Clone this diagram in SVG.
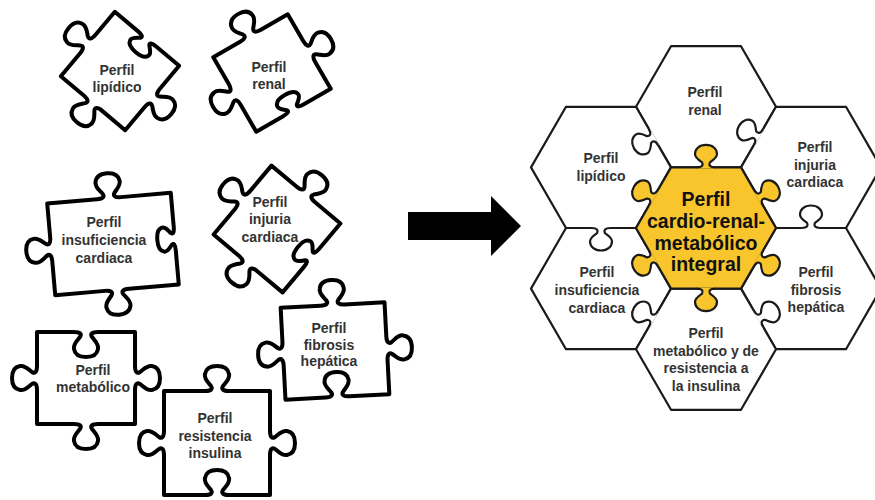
<svg xmlns="http://www.w3.org/2000/svg" width="875" height="500" viewBox="0 0 875 500">
<style>
.pz{fill:#fff;stroke:#000;stroke-width:4;stroke-linejoin:round}
.hx{fill:#fff;stroke:#1a1a1a;stroke-width:2.2;stroke-linejoin:round}
.hc{fill:#F8C52C;stroke:#1a1a1a;stroke-width:2.2;stroke-linejoin:round}
.t{font-family:"Liberation Sans",Arial,sans-serif;font-weight:bold;font-size:14px;fill:#333;text-anchor:middle}
.tc{font-family:"Liberation Sans",Arial,sans-serif;font-weight:bold;font-size:19.5px;fill:#111;text-anchor:middle}
.ky{fill:#F8C52C}
.kw{fill:#fff}
.kl{fill:none;stroke:#1a1a1a;stroke-width:2.2;stroke-linejoin:round}
</style>
<defs>
<path id="kf" d="M25.9,1.2 L25.9,0 C31.1,0 32.4,-2.2 31.1,-5 C27.2,-7.7 24,-9.9 24,-13.2 C24,-18.7 28.5,-22.5 35,-22.5 C41.5,-22.5 46,-18.7 46,-13.2 C46,-9.9 42.8,-7.7 38.9,-5 C37.6,-2.2 38.9,0 44.1,0 L44.1,1.2 Z"/>
<path id="kl" d="M25.9,0 C31.1,0 32.4,-2.2 31.1,-5 C27.2,-7.7 24,-9.9 24,-13.2 C24,-18.7 28.5,-22.5 35,-22.5 C41.5,-22.5 46,-18.7 46,-13.2 C46,-9.9 42.8,-7.7 38.9,-5 C37.6,-2.2 38.9,0 44.1,0"/>
</defs>
<rect width="875" height="500" fill="#fff"/>

<!-- Left puzzle pieces -->
<g id="pieza-lipidico">
<path class="pz" transform="translate(120,71) rotate(40)" d="M-42,-42 h30 c6,0 8,1.4 6,3.5 c-3,2.8 -7,4.9 -6,8.4 c1,4.2 6,5.6 12,5.6 c6,0 11,-1.4 12,-5.6 c1,-3.5 -3,-5.6 -6,-8.4 c-2,-2.1 0,-3.5 6,-3.5 h30 v30 c0,6 2,8 5,6 c4,-3 7,-7 12,-6 c6,1 8,6 8,12 c0,6 -2,11 -8,12 c-5,1 -8,-3 -12,-6 c-3,-2 -5,0 -5,6 v30 h-30 c-6,0 -8,2 -6,5 c3,4 7,7 6,12 c-1,6 -6,8 -12,8 c-6,0 -11,-2 -12,-8 c-1,-5 3,-8 6,-12 c2,-3 0,-5 -6,-5 h-30 v-30 c0,-6 -2,-8 -5,-6 c-4,3 -7,7 -12,6 c-6,-1 -8,-6 -8,-12 c0,-6 2,-11 8,-12 c5,-1 8,3 12,6 c3,2 5,0 5,-6 v-30 Z"/>
<text class="t" x="117" y="75">Perfil</text>
<text class="t" x="117" y="92">lipídico</text>
</g>
<g id="pieza-renal">
<path class="pz" transform="translate(272,73) rotate(-30)" d="M-43,-43 h31 c6,0 8,-2 6,-5 c-3,-4 -7,-7 -6,-12 c1,-6 6,-8 12,-8 c6,0 11,2 12,8 c1,5 -3,8 -6,12 c-2,3 0,5 6,5 h31 v31 c0,6 2,8 5,6 c4,-3 7,-7 12,-6 c6,1 8,6 8,12 c0,6 -2,11 -8,12 c-5,1 -8,-3 -12,-6 c-3,-2 -5,0 -5,6 v31 h-31 c-6,0 -8,-1.4 -6,-3.5 c3,-2.8 7,-4.9 6,-8.4 c-1,-4.2 -6,-5.6 -12,-5.6 c-6,0 -11,1.4 -12,5.6 c-1,3.5 3,5.6 6,8.4 c2,2.1 0,3.5 -6,3.5 h-31 v-31 c0,-6 -2,-8 -5,-6 c-4,3 -7,7 -12,6 c-6,-1 -8,-6 -8,-12 c0,-6 2,-11 8,-12 c5,-1 8,3 12,6 c3,2 5,0 5,-6 v-31 Z"/>
<text class="t" x="269" y="72">Perfil</text>
<text class="t" x="269" y="89">renal</text>
</g>
<g id="pieza-insuficiencia">
<path class="pz" transform="translate(113,244) rotate(-5)" d="M-62,-46 h50 c6,0 8,-2 6,-5 c-3,-4 -7,-7 -6,-12 c1,-6 6,-8 12,-8 c6,0 11,2 12,8 c1,5 -3,8 -6,12 c-2,3 0,5 6,5 h50 v34 c0,6 -1.4,8 -3.5,6 c-2.8,-3 -4.9,-7 -8.4,-6 c-4.2,1 -5.6,6 -5.6,12 c0,6 1.4,11 5.6,12 c3.5,1 5.6,-3 8.4,-6 c2.1,-2 3.5,0 3.5,6 v34 h-50 c-6,0 -8,2 -6,5 c3,4 7,7 6,12 c-1,6 -6,8 -12,8 c-6,0 -11,-2 -12,-8 c-1,-5 3,-8 6,-12 c2,-3 0,-5 -6,-5 h-50 v-34 c0,-6 -2,-8 -5,-6 c-4,3 -7,7 -12,6 c-6,-1 -8,-6 -8,-12 c0,-6 2,-11 8,-12 c5,-1 8,3 12,6 c3,2 5,0 5,-6 v-34 Z"/>
<text class="t" x="104" y="227">Perfil</text>
<text class="t" x="104" y="245">insuficiencia</text>
<text class="t" x="104" y="263">cardiaca</text>
</g>
<g id="pieza-injuria">
<path class="pz" transform="translate(277,229) rotate(40)" d="M-45,-45 h33 c6,0 8,-2 6,-5 c-3,-4 -7,-7 -6,-12 c1,-6 6,-8 12,-8 c6,0 11,2 12,8 c1,5 -3,8 -6,12 c-2,3 0,5 6,5 h33 v33 c0,6 -1.4,8 -3.5,6 c-2.8,-3 -4.9,-7 -8.4,-6 c-4.2,1 -5.6,6 -5.6,12 c0,6 1.4,11 5.6,12 c3.5,1 5.6,-3 8.4,-6 c2.1,-2 3.5,0 3.5,6 v33 h-33 c-6,0 -8,2 -6,5 c3,4 7,7 6,12 c-1,6 -6,8 -12,8 c-6,0 -11,-2 -12,-8 c-1,-5 3,-8 6,-12 c2,-3 0,-5 -6,-5 h-33 v-33 c0,-6 -2,-8 -5,-6 c-4,3 -7,7 -12,6 c-6,-1 -8,-6 -8,-12 c0,-6 2,-11 8,-12 c5,-1 8,3 12,6 c3,2 5,0 5,-6 v-33 Z"/>
<text class="t" x="270" y="207">Perfil</text>
<text class="t" x="270" y="224">injuria</text>
<text class="t" x="270" y="242">cardiaca</text>
</g>
<g id="pieza-metabolico">
<path class="pz" transform="translate(86,378)" d="M-49,-46 h37 c6,0 8,2 6,5 c-3,4 -7,7 -6,12 c1,6 6,8 12,8 c6,0 11,-2 12,-8 c1,-5 -3,-8 -6,-12 c-2,-3 0,-5 6,-5 h37 v34 c0,6 2,8 5,6 c4,-3 7,-7 12,-6 c6,1 8,6 8,12 c0,6 -2,11 -8,12 c-5,1 -8,-3 -12,-6 c-3,-2 -5,0 -5,6 v34 h-37 c-6,0 -8,2 -6,5 c3,4 7,7 6,12 c-1,6 -6,8 -12,8 c-6,0 -11,-2 -12,-8 c-1,-5 3,-8 6,-12 c2,-3 0,-5 -6,-5 h-37 v-34 c0,-6 -2,-8 -5,-6 c-4,3 -7,7 -12,6 c-6,-1 -8,-6 -8,-12 c0,-6 2,-11 8,-12 c5,-1 8,3 12,6 c3,2 5,0 5,-6 v-34 Z"/>
<text class="t" x="93" y="375">Perfil</text>
<text class="t" x="93" y="392">metabólico</text>
</g>
<g id="pieza-fibrosis">
<path class="pz" transform="translate(335,351) rotate(-3)" d="M-52,-46 h40 c6,0 8,-2 6,-5 c-3,-4 -7,-7 -6,-12 c1,-6 6,-8 12,-8 c6,0 11,2 12,8 c1,5 -3,8 -6,12 c-2,3 0,5 6,5 h40 v34 c0,6 2,8 5,6 c4,-3 7,-7 12,-6 c6,1 8,6 8,12 c0,6 -2,11 -8,12 c-5,1 -8,-3 -12,-6 c-3,-2 -5,0 -5,6 v34 h-40 c-6,0 -8,-2 -6,-5 c3,-4 7,-7 6,-12 c-1,-6 -6,-8 -12,-8 c-6,0 -11,2 -12,8 c-1,5 3,8 6,12 c2,3 0,5 -6,5 h-40 v-34 c0,-6 -2,-8 -5,-6 c-4,3 -7,7 -12,6 c-6,-1 -8,-6 -8,-12 c0,-6 2,-11 8,-12 c5,-1 8,3 12,6 c3,2 5,0 5,-6 v-34 Z"/>
<text class="t" x="329" y="333">Perfil</text>
<text class="t" x="329" y="350">fibrosis</text>
<text class="t" x="329" y="366">hepática</text>
</g>
<g id="pieza-resistencia">
<path class="pz" transform="translate(217,443)" d="M-53,-52 h41 c6,0 8,-2 6,-5 c-3,-4 -7,-7 -6,-12 c1,-6 6,-8 12,-8 c6,0 11,2 12,8 c1,5 -3,8 -6,12 c-2,3 0,5 6,5 h41 v40 c0,6 2,8 5,6 c4,-3 7,-7 12,-6 c6,1 8,6 8,12 c0,6 -2,11 -8,12 c-5,1 -8,-3 -12,-6 c-3,-2 -5,0 -5,6 v40 h-41 c-6,0 -8,-2 -6,-5 c3,-4 7,-7 6,-12 c-1,-6 -6,-8 -12,-8 c-6,0 -11,2 -12,8 c-1,5 3,8 6,12 c2,3 0,5 -6,5 h-41 v-40 c0,-6 -2,-8 -5,-6 c-4,3 -7,7 -12,6 c-6,-1 -8,-6 -8,-12 c0,-6 2,-11 8,-12 c5,-1 8,3 12,6 c3,2 5,0 5,-6 v-40 Z"/>
<text class="t" x="215" y="423">Perfil</text>
<text class="t" x="215" y="441">resistencia</text>
<text class="t" x="215" y="458">insulina</text>
</g>

<!-- Right hexagon cluster -->
<g id="hex-renal">
<polygon class="hx" points="636,106.8 671,46.2 741,46.2 776,106.8 741,167.4 671,167.4"/>
<text class="t" x="705" y="97">Perfil</text>
<text class="t" x="705" y="115">renal</text>
</g>
<g id="hex-lipidico">
<polygon class="hx" points="531,167.4 566,106.8 636,106.8 671,167.4 636,228 566,228"/>
<text class="t" x="601" y="163">Perfil</text>
<text class="t" x="601" y="181">lipídico</text>
</g>
<g id="hex-injuria">
<polygon class="hx" points="741,167.4 776,106.8 846,106.8 881,167.4 846,228 776,228"/>
<text class="t" x="815" y="152">Perfil</text>
<text class="t" x="815" y="170">injuria</text>
<text class="t" x="815" y="187">cardiaca</text>
</g>
<g id="hex-insuficiencia">
<polygon class="hx" points="531,288.6 566,228 636,228 671,288.6 636,349.2 566,349.2"/>
<text class="t" x="597" y="277">Perfil</text>
<text class="t" x="597" y="295">insuficiencia</text>
<text class="t" x="597" y="313">cardiaca</text>
</g>
<g id="hex-fibrosis">
<polygon class="hx" points="741,288.6 776,228 846,228 881,288.6 846,349.2 776,349.2"/>
<text class="t" x="816" y="277">Perfil</text>
<text class="t" x="816" y="295">fibrosis</text>
<text class="t" x="816" y="312">hepática</text>
</g>
<g id="hex-metabolico">
<polygon class="hx" points="636,349.2 671,288.6 741,288.6 776,349.2 741,409.8 671,409.8"/>
<text class="t" x="706" y="338">Perfil</text>
<text class="t" x="706" y="356">metabólico y de</text>
<text class="t" x="706" y="373">resistencia a</text>
<text class="t" x="706" y="391">la insulina</text>
</g>
<g id="hex-central">
<polygon class="hc" points="636,228 671,167.4 741,167.4 776,228 741,288.6 671,288.6"/>
</g>

<!-- puzzle joints between hexagons -->
<g id="joints">
<use href="#kf" class="ky" transform="translate(671,167.4) rotate(0)"/>
<use href="#kf" class="ky" transform="translate(636,228) rotate(-60)"/>
<use href="#kf" class="ky" transform="translate(741,167.4) rotate(60)"/>
<use href="#kf" class="ky" transform="translate(776,228) rotate(120)"/>
<use href="#kf" class="ky" transform="translate(741,288.6) rotate(180)"/>
<use href="#kf" class="ky" transform="translate(671,288.6) rotate(240)"/>
<use href="#kf" class="kw" transform="translate(671,167.4) rotate(240)"/>
<use href="#kf" class="kw" transform="translate(741,167.4) rotate(-60)"/>
<use href="#kf" class="kw" transform="translate(776,228) rotate(0)"/>
<use href="#kf" class="kw" transform="translate(741,288.6) rotate(60)"/>
<use href="#kf" class="kw" transform="translate(636,349.2) rotate(-60)"/>
<use href="#kf" class="kw" transform="translate(636,228) rotate(180)"/>
<use href="#kl" class="kl" transform="translate(671,167.4) rotate(0)"/>
<use href="#kl" class="kl" transform="translate(636,228) rotate(-60)"/>
<use href="#kl" class="kl" transform="translate(741,167.4) rotate(60)"/>
<use href="#kl" class="kl" transform="translate(776,228) rotate(120)"/>
<use href="#kl" class="kl" transform="translate(741,288.6) rotate(180)"/>
<use href="#kl" class="kl" transform="translate(671,288.6) rotate(240)"/>
<use href="#kl" class="kl" transform="translate(671,167.4) rotate(240)"/>
<use href="#kl" class="kl" transform="translate(741,167.4) rotate(-60)"/>
<use href="#kl" class="kl" transform="translate(776,228) rotate(0)"/>
<use href="#kl" class="kl" transform="translate(741,288.6) rotate(60)"/>
<use href="#kl" class="kl" transform="translate(636,349.2) rotate(-60)"/>
<use href="#kl" class="kl" transform="translate(636,228) rotate(180)"/>
</g>
<g id="hex-central-text">
<text class="tc" x="706" y="206">Perfil</text>
<text class="tc" x="706" y="228">cardio-renal-</text>
<text class="tc" x="706" y="250">metabólico</text>
<text class="tc" x="706" y="271">integral</text>
</g>

<g id="connectors">
<polygon points="408,212 491,212 491,196 521,226 491,256 491,240 408,240" fill="#000"/>
</g>
</svg>
